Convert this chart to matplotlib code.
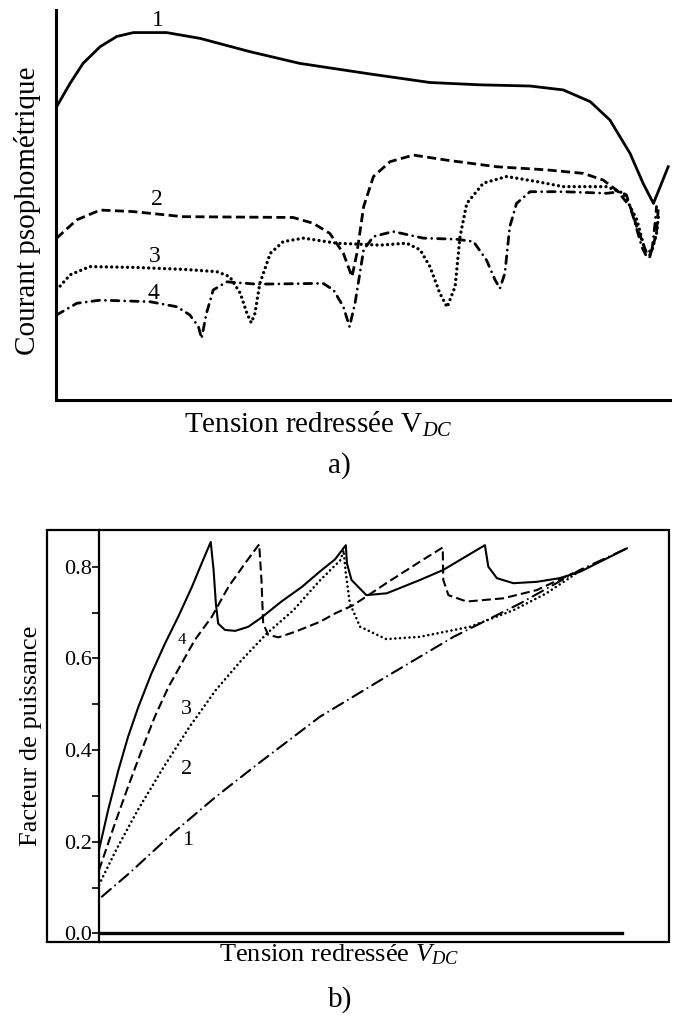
#!/usr/bin/env python3
"""
Courant psophometrique et facteur de puissance en fonction de V_DC
"""
import matplotlib
matplotlib.use("Agg")
import matplotlib.pyplot as plt
from matplotlib.patches import Rectangle

# ---- a) courant psophometrique (unites arbitraires, 0..100) ----
a1_x = [0.1, 2.3, 4.4, 7.2, 9.9, 12.6, 18.0, 23.5, 31.6, 39.7, 51.1,
        60.9, 69.1, 77.2, 82.6, 87.0, 90.2, 93.5, 95.6, 97.3, 98.4, 99.7]
a1_y = [75.2, 81.2, 86.3, 90.6, 93.2, 94.2, 94.2, 92.7, 89.3, 86.3, 83.6,
        81.4, 80.8, 80.5, 79.5, 76.5, 71.8, 63.2, 55.6, 50.4, 54.7, 59.8]

a2_x = [0.1, 3.4, 7.2, 12.6, 20.7, 38.6, 41.9, 44.6, 46.8, 48.2, 49.0, 50.1,
        51.7, 54.4, 58.2, 63.6, 71.8, 79.9, 85.9, 89.1, 91.3, 93.5, 94.6,
        96.2, 96.7, 97.8, 98.1]
a2_y = [41.5, 46.2, 48.7, 48.3, 47.0, 46.8, 45.3, 42.7, 37.6, 31.6, 37.6,
        49.6, 57.3, 61.1, 62.8, 61.5, 59.8, 59.0, 58.1, 56.4, 53.8, 49.6,
        44.4, 37.6, 36.7, 42.7, 49.6]

a3_x = [0.1, 2.3, 5.5, 12.6, 20.7, 26.2, 28.3, 30.0, 31.1, 31.8, 32.4, 33.2,
        34.9, 37.0, 40.3, 45.7, 52.8, 57.1, 59.3, 60.9, 62.5, 63.7, 65.0,
        65.8, 66.9, 69.6, 73.4, 78.3, 82.6, 89.7, 92.4, 94.6, 95.9, 97.0,
        97.8, 98.1]
a3_y = [28.2, 32.1, 34.2, 34.0, 33.5, 32.9, 31.6, 27.4, 22.2, 19.8, 22.2,
        29.9, 37.6, 40.6, 41.5, 40.2, 39.7, 40.2, 38.5, 34.2, 27.4, 23.8,
        29.1, 41.9, 50.4, 55.6, 57.3, 56.0, 54.7, 54.7, 53.0, 46.2, 38.5,
        38.0, 42.7, 47.0]

a4_x = [0.1, 3.4, 7.2, 15.3, 19.7, 21.8, 23.2, 23.7, 24.5, 25.6, 27.8, 32.7,
        43.5, 45.2, 46.8, 47.8, 48.7, 50.1, 51.7, 54.9, 59.8, 65.3, 68.0,
        70.1, 71.5, 72.3, 73.1, 73.9, 75.0, 77.2, 82.6, 89.7, 91.9, 92.9,
        94.0, 95.4, 96.2, 97.0, 97.5, 97.8]
a4_y = [21.8, 24.8, 25.6, 25.2, 23.9, 21.8, 18.8, 15.8, 22.2, 28.2, 30.3,
        29.7, 29.9, 28.2, 23.9, 18.8, 24.8, 38.5, 41.9, 43.2, 41.5, 41.2,
        40.6, 35.9, 30.8, 28.6, 32.5, 44.4, 50.4, 53.4, 53.4, 53.0, 53.4,
        52.6, 47.0, 39.3, 36.7, 37.6, 44.4, 49.6]

# ---- b) facteur de puissance ----
b4_x = [0, 1.6, 3.4, 5.1, 6.9, 9.2, 11.6, 13.9, 16.3, 18.0, 19.6, 20.1,
        20.5, 20.9, 22.1, 23.9, 26.2, 28.5, 32.0, 35.6, 38.8, 41.4, 43.3,
        43.5, 44.3, 46.9, 50.5, 56.3, 60.4, 67.7, 68.3, 69.8, 72.7, 76.8,
        80.8, 84.4, 92.6]
b4_y = [0.182, 0.269, 0.356, 0.429, 0.494, 0.567, 0.633, 0.691, 0.756,
        0.807, 0.854, 0.793, 0.720, 0.676, 0.662, 0.660, 0.669, 0.689,
        0.724, 0.756, 0.790, 0.816, 0.847, 0.807, 0.771, 0.738, 0.742,
        0.771, 0.793, 0.847, 0.800, 0.775, 0.764, 0.767, 0.775, 0.789,
        0.840]

b3_x = [0, 2.8, 5.1, 7.5, 9.8, 12.2, 14.5, 16.8, 19.8, 22.7, 25.6, 28.1,
        28.5, 28.8, 29.7, 31.5, 34.4, 38.8, 41.4, 44.6, 50.4, 56.3, 60.3,
        60.4, 61.3, 64.5, 70.9, 76.8, 83.2]
b3_y = [0.138, 0.240, 0.320, 0.400, 0.473, 0.538, 0.589, 0.640, 0.691,
        0.756, 0.807, 0.849, 0.771, 0.676, 0.651, 0.646, 0.658, 0.680,
        0.698, 0.716, 0.764, 0.811, 0.842, 0.771, 0.738, 0.724, 0.731,
        0.749, 0.786]

b2_x = [0, 3.0, 6.8, 11.4, 15.9, 20.5, 25.0, 29.5, 34.1, 38.6, 42.4, 42.9,
        43.3, 44.0, 45.8, 50.4, 56.3, 65.1, 72.7, 78.5, 83.8]
b2_y = [0.106, 0.182, 0.269, 0.364, 0.451, 0.531, 0.596, 0.655, 0.705,
        0.768, 0.815, 0.836, 0.786, 0.720, 0.669, 0.642, 0.647, 0.669,
        0.705, 0.742, 0.786]

b1_x = [0.5, 5.3, 12.9, 20.5, 28.0, 38.8, 50.4, 62.2, 73.9, 84.4, 92.6]
b1_y = [0.080, 0.131, 0.218, 0.298, 0.371, 0.473, 0.560, 0.647, 0.720,
        0.793, 0.840]

b_major = [0.0, 0.2, 0.4, 0.6, 0.8]
b_minor = [0.1, 0.3, 0.5, 0.7]
b_zero_end = 91.8


def format_plotting():
    plt.rcParams['font.family'] = ['Liberation Serif', 'DejaVu Serif']
    plt.rcParams['mathtext.fontset'] = 'custom'
    plt.rcParams['mathtext.rm'] = 'Liberation Serif'
    plt.rcParams['mathtext.it'] = 'Liberation Serif:italic'
    plt.rcParams['lines.scale_dashes'] = False
    plt.rcParams['lines.solid_joinstyle'] = 'round'
    plt.rcParams['lines.dash_joinstyle'] = 'round'
    return


def main():
    format_plotting()
    fig = plt.figure(figsize=(6.74, 10.16), dpi=100)

    # ---------------- a) ----------------
    ax = fig.add_axes([0.0831, 0.6063, 0.911, 0.3839])
    lw = 2.0
    ax.plot(a1_x, a1_y, color="k", lw=lw)
    ax.plot(a2_x, a2_y, color="k", lw=lw, dashes=(6.5, 3.2),
            dash_capstyle='butt')
    ax.plot(a3_x, a3_y, color="k", lw=2.4, dashes=(0.01, 3.8),
            dash_capstyle='round')
    ax.plot(a4_x, a4_y, color="k", lw=lw, dashes=(5.5, 4.2, 0.01, 4.2),
            dash_capstyle='round')
    ax.set_xlim(0, 100)
    ax.set_ylim(0, 100)
    for s in ['top', 'right']:
        ax.spines[s].set_visible(False)
    ax.spines['left'].set_linewidth(2.2)
    ax.spines['bottom'].set_linewidth(2.2)
    ax.set_xticks([])
    ax.set_yticks([])
    for lab, x, y in [("1", 16.6, 97.4), ("2", 16.4, 51.5),
                      ("3", 16.1, 36.7), ("4", 15.8, 27.4)]:
        ax.text(x, y, lab, fontsize=17, ha='center', va='center')
    fig.text(0.0415, 0.793, "Courant psophométrique", rotation=90,
             fontsize=21, ha='center', va='center')
    fig.text(0.472, 0.5738, r"Tension redressée V$_{\mathit{DC}}$",
             fontsize=21, ha='center', va='baseline')
    fig.text(0.504, 0.542, "a)", fontsize=21, ha='center', va='center')

    # ---------------- b) ----------------
    frame = Rectangle((0.0697, 0.0728), 0.9229, 0.4055,
                      transform=fig.transFigure, fill=False, lw=1.6, ec="k")
    fig.add_artist(frame)
    bx = fig.add_axes([0.1469, 0.0728, 0.8457, 0.4055])
    lw = 1.5
    bx.plot(b4_x, b4_y, color="k", lw=lw)
    bx.plot(b3_x, b3_y, color="k", lw=lw, dashes=(6.5, 3),
            dash_capstyle='butt')
    bx.plot(b2_x, b2_y, color="k", lw=1.9, dashes=(0.01, 3.4),
            dash_capstyle='round')
    bx.plot(b1_x, b1_y, color="k", lw=lw, dashes=(8.5, 4, 0.01, 4),
            dash_capstyle='round')
    bx.plot([0, b_zero_end], [0, 0], color="k", lw=2.4)
    bx.set_xlim(0, 100)
    bx.set_ylim(-0.019, 0.880)
    for s in ['top', 'right', 'bottom']:
        bx.spines[s].set_visible(False)
    bx.spines['left'].set_linewidth(1.6)
    bx.set_xticks([])
    bx.set_yticks(b_major)
    bx.set_yticklabels(["%.1f" % v for v in b_major])
    bx.set_yticks(b_minor, minor=True)
    bx.tick_params(axis='y', which='both', direction='out', length=5,
                   width=1.2, pad=0, labelsize=16)
    for lab, x, y, fs in [("4", 14.6, 0.640, 12), ("3", 15.4, 0.488, 16),
                          ("2", 15.4, 0.358, 16), ("1", 15.6, 0.202, 16)]:
        bx.text(x, y, lab, fontsize=fs, ha='center', va='center')
    fig.text(0.046, 0.2755, "Facteur de puissance", rotation=90,
             fontsize=19, ha='center', va='center')
    fig.text(0.503, 0.0541, r"Tension redressée $V_{DC}$",
             fontsize=19, ha='center', va='baseline')
    fig.text(0.504, 0.016, "b)", fontsize=21, ha='center', va='center')

    fig.savefig("out.png", dpi=100)


if __name__ == "__main__":
    main()
